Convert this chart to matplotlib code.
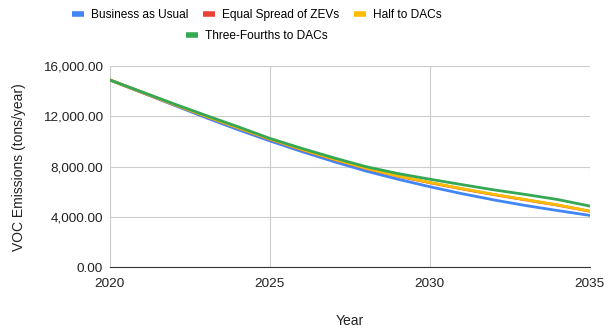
import matplotlib.pyplot as plt
import matplotlib.ticker as mticker

plt.rcParams['font.family'] = ['Liberation Sans', 'DejaVu Sans']

years = list(range(2020, 2036))
bau = [14900, 13900, 12900, 11900, 10950, 10050, 9200, 8400, 7650, 7000,
       6400, 5850, 5350, 4900, 4500, 4120]
equal_zev = [14900, 13920, 12950, 12010, 11090, 10180, 9350, 8580, 7860, 7240,
             6720, 6230, 5770, 5350, 4930, 4450]
half_dac = [14900, 13930, 12960, 12020, 11100, 10200, 9370, 8600, 7880, 7260,
            6740, 6250, 5790, 5370, 4950, 4460]
three_fourths_dac = [14900, 13950, 13000, 12080, 11180, 10250, 9450, 8700, 8000, 7450,
                     7000, 6570, 6150, 5780, 5380, 4860]

names = ["Business as Usual", "Equal Spread of ZEVs", "Half to DACs", "Three-Fourths to DACs"]
colors = ["#4285F4", "#EA4335", "#FBBC04", "#34A853"]
yticks = [0, 4000, 8000, 12000, 16000]
xticks = [2020, 2025, 2030, 2035]

fig = plt.figure(figsize=(6.1, 3.29), dpi=100)
ax = fig.add_axes([0.180, 0.188, 0.787, 0.611])

lines = []
for vals, name, c in zip([bau, equal_zev, half_dac, three_fourths_dac], names, colors):
    ln, = ax.plot(years, vals, color=c, lw=2, label=name, solid_capstyle='round')
    lines.append(ln)

ax.set_xlim(2020, 2035)
ax.set_ylim(0, 16000)
ax.set_xticks(xticks)
ax.set_yticks(yticks)
ax.yaxis.set_major_formatter(mticker.FuncFormatter(lambda v, p: f"{v:,.2f}"))
ax.grid(True, color="#cccccc", lw=0.8)
ax.set_axisbelow(True)
for s in ["top", "right", "left"]:
    ax.spines[s].set_visible(False)
ax.spines["bottom"].set_color("#333333")
ax.tick_params(length=0, labelsize=9.7, colors="#222222")
ax.tick_params(axis='x', pad=8)
ax.tick_params(axis='y', pad=5)

ax.set_xlabel("Year", fontsize=10, color="#222222", labelpad=17)
ax.set_ylabel("VOC Emissions (tons/year)", fontsize=10, color="#222222", labelpad=12)

leg_kw = dict(frameon=False, fontsize=8.6, handlelength=1.0, handletextpad=0.6,
              columnspacing=1.25, borderaxespad=0)
leg1 = fig.legend(lines[:3], names[:3], loc='center', bbox_to_anchor=(0.421, 0.953),
                  ncol=3, **leg_kw)
leg2 = fig.legend(lines[3:], names[3:], loc='center', bbox_to_anchor=(0.421, 0.891),
                  ncol=1, **leg_kw)
for lg in (leg1, leg2):
    for h in lg.legend_handles:
        h.set_linewidth(4)
        h.set_solid_capstyle('butt')

fig.savefig("out.png", dpi=100)
